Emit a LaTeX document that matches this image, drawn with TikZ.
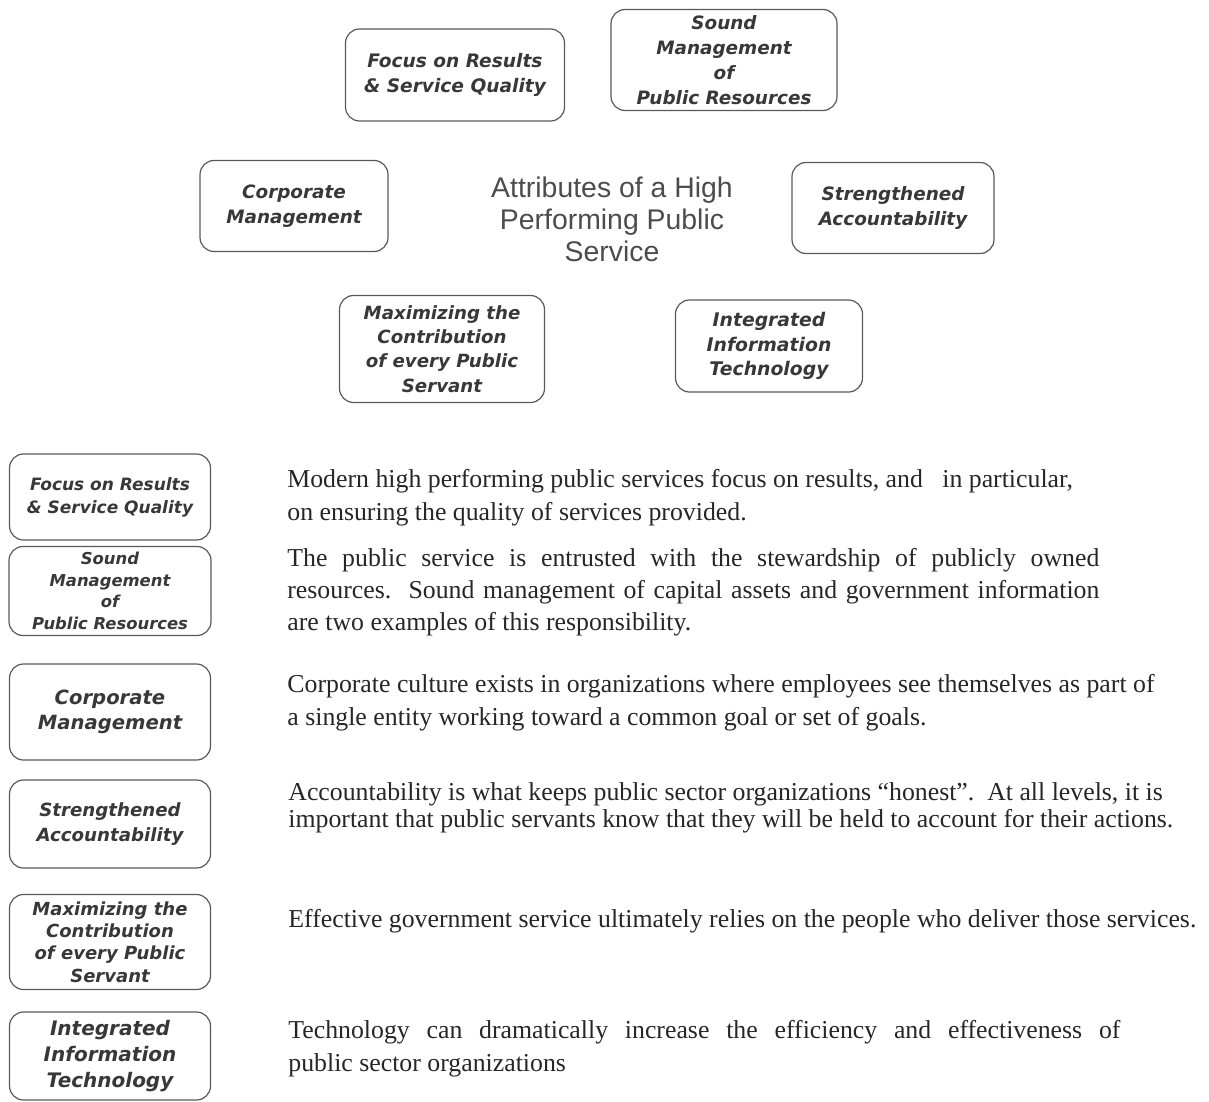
\documentclass[tikz,border=0pt]{standalone}
\usepackage{fontspec}
\setmainfont{Liberation Serif}
\newfontfamily\attrfont{DejaVu Sans}
\newfontfamily\headfont{Liberation Sans}
\usepackage{tikz}

\definecolor{boxline}{gray}{0.35}
\definecolor{boxtext}{gray}{0.22}
\definecolor{headtext}{gray}{0.30}
\definecolor{bodytext}{gray}{0.15}

\newcommand{\attrsize}[2]{\attrfont\bfseries\itshape\fontsize{#1}{#2}\selectfont}
\newcommand{\bodysize}[1]{\fontsize{12.9}{#1}\selectfont}

\tikzset{
    attr/.style 2 args={draw=boxline, line width=0.6pt, rounded corners=7pt,
        align=center, text=boxtext, inner sep=0pt,
        minimum width=#1, minimum height=#2},
    % base of a multi-line desc is the baseline of its last line
    desc/.style={anchor=base west, align=left, inner sep=0pt, text=bodytext},
}

\begin{document}
\begin{tikzpicture}[x=0.5pt, y=-0.5pt]

    \useasboundingbox (0,0) rectangle (1209,1102);

    % title in the middle
    \node [text=headtext, font={\headfont\fontsize{14.2}{16}\selectfont}, align=center, inner sep=0pt] (title) at (612,219) {Attributes of a High\\Performing Public\\Service};

    % attributes round the title
    \node [attr={109.5pt}{46pt}, font=\attrsize{9.3}{12.5}] (results) at (455,75) {Focus on Results\\\& Service Quality};
    \node [attr={113pt}{50.5pt}, font=\attrsize{9.2}{12.4}] (sound) at (724,60) {Sound\\Management\\of\\Public Resources};
    \node [attr={94pt}{45.5pt}, font=\attrsize{9.2}{12.5}] (corporate) at (294,206) {Corporate\\Management};
    \node [attr={101pt}{45.5pt}, font=\attrsize{9.2}{12.5}] (account) at (893,208) {Strengthened\\Accountability};
    \node [attr={102.5pt}{53.5pt}, font=\attrsize{9.1}{12.2}] (servant) at (442,349) {Maximizing the\\Contribution\\of every Public\\Servant};
    \node [attr={93.5pt}{46pt}, font=\attrsize{9.4}{12.3}] (infotech) at (769,346) {Integrated\\Information\\Technology};

    % list of attributes
    \node [attr={100.5pt}{43pt}, font=\attrsize{8.5}{11.5}] (lresults) at (110,497) {Focus on Results\\\& Service Quality};
    \node [attr={101pt}{44.5pt}, font=\attrsize{8.2}{10.8}] (lsound) at (110,591) {Sound\\Management\\of\\Public Resources};
    \node [attr={100.5pt}{48pt}, font=\attrsize{9.8}{12.5}] (lcorporate) at (110,712) {Corporate\\Management};
    \node [attr={100.5pt}{44pt}, font=\attrsize{9.1}{12.5}] (laccount) at (110,824) {Strengthened\\Accountability};
    \node [attr={100.5pt}{47.5pt}, font=\attrsize{9}{11.2}] (lservant) at (110,942) {Maximizing the\\Contribution\\of every Public\\Servant};
    \node [attr={100.5pt}{44pt}, font=\attrsize{10}{12.8}] (linfotech) at (110,1056) {Integrated\\Information\\Technology};

    % descriptions
    \node [desc, font=\bodysize{16.5}] (dresults) at (287,520) {Modern high performing public services focus on results, and\ \ \ in particular,\\on ensuring the quality of services provided.};
    \node [desc, font=\bodysize{16}] (dsound) at (287,630) {\makebox[406pt][s]{The public service is entrusted with the stewardship of publicly owned}\\\makebox[406pt][s]{resources.\ \ Sound management of capital assets and government information}\\are two examples of this responsibility.};
    \node [desc, font=\bodysize{16.5}] (dcorporate) at (287,725) {Corporate culture exists in organizations where employees see themselves as part of\\a single entity working toward a common goal or set of goals.};
    \node [desc, font=\bodysize{13.5}] (daccount) at (288,827) {Accountability is what keeps public sector organizations “honest”.\ \ At all levels, it is\\important that public servants know that they will be held to account for their actions.};
    \node [desc, font=\bodysize{16}] (dservant) at (288,927) {Effective government service ultimately relies on the people who deliver those services.};
    \node [desc, font=\bodysize{16.5}] (dinfotech) at (288,1071) {\makebox[416pt][s]{Technology can dramatically increase the efficiency and effectiveness of}\\public sector organizations};

\end{tikzpicture}
\end{document}
